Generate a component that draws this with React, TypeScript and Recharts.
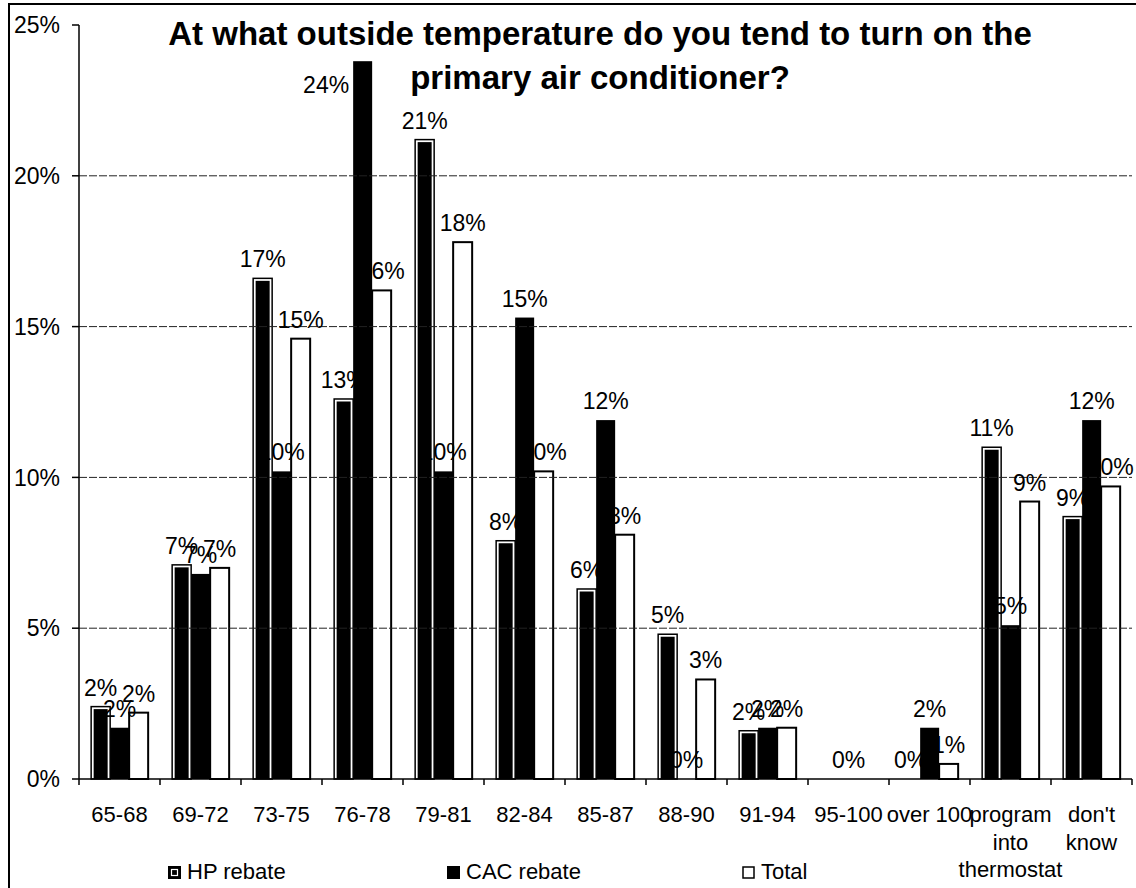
import React from 'react';
import {
  Bar,
  BarChart,
  LabelList,
  Legend,
  ReferenceLine,
  XAxis,
  YAxis,
} from 'recharts';

const FONT = 'Arial, "Liberation Sans", sans-serif';

const categories = [
  '65-68',
  '69-72',
  '73-75',
  '76-78',
  '79-81',
  '82-84',
  '85-87',
  '88-90',
  '91-94',
  '95-100',
  'over 100',
  'program into thermostat',
  "don't know",
];

// percent of respondents per temperature band
const hpRebate = [2.4, 7.1, 16.6, 12.6, 21.2, 7.9, 6.3, 4.8, 1.6, null, 0, 11.0, 8.7];
const cacRebate = [1.7, 6.8, 10.2, 23.8, 10.2, 15.3, 11.9, 0, 1.7, 0, 1.7, 5.1, 11.9];
const total = [2.2, 7.0, 14.6, 16.2, 17.8, 10.2, 8.1, 3.3, 1.7, null, 0.5, 9.2, 9.7];

const yTicks = [0, 5, 10, 15, 20, 25];
const gridValues = [5, 10, 15, 20];

// labels whose top would run into the two-line title go beside the bar instead
const TITLE_BOTTOM = 100;

const data = categories.map((name, i) => ({
  name,
  hp: hpRebate[i],
  cac: cacRebate[i],
  total: total[i],
}));

// HP bars: black core inside a thin white gap and black outline
const HpBarShape = (props: any) => {
  const { x, y, width, height } = props;
  if (!height || height <= 0) return null;
  return (
    <g>
      <rect x={x} y={y} width={width} height={height} fill='#fff' stroke='#000' strokeWidth={1.5} />
      <rect x={x + 2.5} y={y + 2.5} width={width - 5} height={height - 2.5} fill='#000' />
    </g>
  );
};

const SolidBarShape = (props: any) => {
  const { x, y, width, height } = props;
  if (!height || height <= 0) return null;
  return <rect x={x} y={y} width={width} height={height} fill='#000' />;
};

const OutlineBarShape = (props: any) => {
  const { x, y, width, height } = props;
  if (!height || height <= 0) return null;
  return (
    <rect x={x} y={y} width={width} height={height} fill='#fff' stroke='#000' strokeWidth={2} />
  );
};

const ValueLabel = (props: any) => {
  const box = props.viewBox ?? props;
  const { value } = props;
  if (value === null || value === undefined) return null;
  const beside = box.y - 34 < TITLE_BOTTOM;
  return (
    <text
      x={beside ? box.x - 4 : box.x + box.width / 2}
      y={beside ? box.y + 32 : box.y - 11}
      textAnchor={beside ? 'end' : 'middle'}
      fontSize={23}
      fill='#000'
      fontFamily={FONT}
    >
      {`${Math.round(value)}%`}
    </text>
  );
};

const CategoryTick = (props: any) => {
  const { x, y, payload } = props;
  const half = payload.offset ?? 0;
  const label: string = payload.value;
  const lines = label.length > 8 ? label.split(' ') : [label];
  const isLast = label === categories[categories.length - 1];
  return (
    <g>
      <line x1={x - half} x2={x - half} y1={y} y2={y + 6} stroke='#000' strokeWidth={1.5} />
      {isLast && (
        <line x1={x + half} x2={x + half} y1={y} y2={y + 6} stroke='#000' strokeWidth={1.5} />
      )}
      <text x={x} y={y + 43} textAnchor='middle' fontSize={22} fill='#000' fontFamily={FONT}>
        {lines.map((line, i) => (
          <tspan key={line} x={x} dy={i === 0 ? 0 : 27.5}>
            {line}
          </tspan>
        ))}
      </text>
    </g>
  );
};

const legendItems = [
  { label: 'HP rebate', left: 168, kind: 'hp' },
  { label: 'CAC rebate', left: 447, kind: 'cac' },
  { label: 'Total', left: 742, kind: 'total' },
];

const LegendIcon = ({ kind }: { kind: string }) => (
  <svg width={13} height={13} style={{ display: 'block' }}>
    {kind === 'total' ? (
      <rect x={1} y={1} width={11} height={11} fill='#fff' stroke='#000' strokeWidth={1.5} />
    ) : (
      <rect x={0} y={0} width={13} height={13} fill='#000' />
    )}
    {kind === 'hp' && (
      <rect x={3.5} y={3.5} width={6} height={6} fill='none' stroke='#fff' strokeWidth={1.2} />
    )}
  </svg>
);

const ChartLegend = () => (
  <div style={{ position: 'relative', height: 48, fontFamily: FONT }}>
    {legendItems.map(item => (
      <div
        key={item.label}
        style={{ position: 'absolute', left: item.left, top: 0, height: 48 }}
      >
        <div style={{ position: 'absolute', left: 0, top: 26 }}>
          <LegendIcon kind={item.kind} />
        </div>
        <div
          style={{
            position: 'absolute',
            left: 19,
            top: 21,
            fontSize: 22,
            lineHeight: '22px',
            whiteSpace: 'nowrap',
            color: '#000',
          }}
        >
          {item.label}
        </div>
      </div>
    ))}
  </div>
);

export default function App() {
  return (
    <div
      style={{
        position: 'absolute',
        left: 0,
        top: 0,
        width: 1136,
        height: 888,
        background: '#fff',
        overflow: 'hidden',
        fontFamily: FONT,
      }}
    >
      <BarChart
        width={1136}
        height={888}
        data={data}
        margin={{ top: 25, right: 4, left: 0, bottom: 0 }}
        barGap={0}
        barCategoryGap='15%'
        style={{ fontFamily: FONT }}
      >
        {gridValues.map(v => (
          <ReferenceLine
            key={v}
            y={v}
            stroke='#222'
            strokeWidth={1}
            strokeDasharray='8 2'
          />
        ))}
        <XAxis
          dataKey='name'
          interval={0}
          height={61}
          tickSize={0}
          tickMargin={0}
          tick={<CategoryTick />}
          axisLine={{ stroke: '#000', strokeWidth: 1.5 }}
          tickLine={false}
        />
        <YAxis
          width={79}
          domain={[0, 25]}
          ticks={yTicks}
          tickFormatter={v => `${v}%`}
          tickSize={7}
          tickMargin={12}
          tick={{ fontSize: 23, fill: '#000', fontFamily: FONT }}
          axisLine={{ stroke: '#000', strokeWidth: 1.5 }}
          tickLine={{ stroke: '#000', strokeWidth: 1.5 }}
        />
        <Legend
          verticalAlign='bottom'
          content={<ChartLegend />}
          wrapperStyle={{ left: 0, bottom: 0, width: 1136, height: 48 }}
        />
        <Bar dataKey='hp' name='HP rebate' shape={<HpBarShape />} isAnimationActive={false}>
          <LabelList dataKey='hp' content={<ValueLabel />} />
        </Bar>
        <Bar dataKey='cac' name='CAC rebate' shape={<SolidBarShape />} isAnimationActive={false}>
          <LabelList dataKey='cac' content={<ValueLabel />} />
        </Bar>
        <Bar dataKey='total' name='Total' shape={<OutlineBarShape />} isAnimationActive={false}>
          <LabelList dataKey='total' content={<ValueLabel />} />
        </Bar>
      </BarChart>
      <div
        style={{
          position: 'absolute',
          left: 100,
          top: 12,
          width: 1000,
          textAlign: 'center',
          fontSize: 33,
          fontWeight: 'bold',
          lineHeight: '44px',
          color: '#000',
          pointerEvents: 'none',
        }}
      >
        At what outside temperature do you tend to turn on the
        <br />
        primary air conditioner?
      </div>
      <div
        style={{
          position: 'absolute',
          left: 8,
          top: 3,
          width: 1140,
          height: 900,
          border: '2px solid #000',
          pointerEvents: 'none',
        }}
      />
    </div>
  );
}
